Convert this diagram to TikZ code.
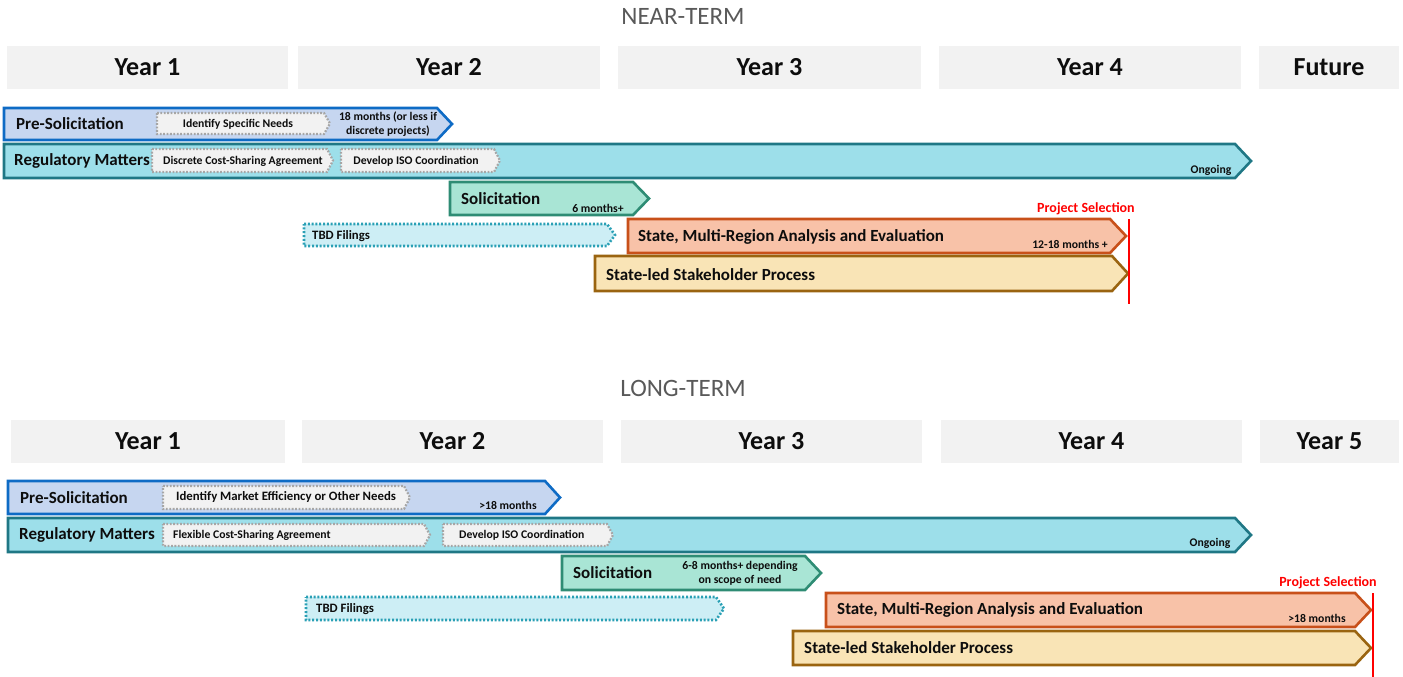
\documentclass[tikz,border=0pt]{standalone}
\usepackage{fontspec}
\setmainfont{Carlito}
\definecolor{hdrgray}{HTML}{F2F2F2}
\definecolor{txt}{HTML}{0D0D0D}
\definecolor{ttl}{HTML}{595959}
\definecolor{dotgray}{HTML}{A6A6A6}
\definecolor{preFill}{HTML}{C6D6F0}
\definecolor{preDraw}{HTML}{0E6BC5}
\definecolor{regFill}{HTML}{9DDFEA}
\definecolor{regDraw}{HTML}{1F7785}
\definecolor{solFill}{HTML}{A9E5D5}
\definecolor{solDraw}{HTML}{2E8C74}
\definecolor{tbdFill}{HTML}{CDEEF5}
\definecolor{tbdDraw}{HTML}{2AA0B5}
\definecolor{smrFill}{HTML}{F8C2A8}
\definecolor{smrDraw}{HTML}{C8501A}
\definecolor{slFill}{HTML}{F9E4B6}
\definecolor{slDraw}{HTML}{9A6410}
\definecolor{psred}{HTML}{FF0000}
\newcommand\chev[7]{%
  \draw[#1] (#3,#4) -- ({#5-#7},#4) -- (#5,{(#4+#6)/2}) -- ({#5-#7},#6) -- (#3,#6) -- cycle;
  \coordinate (#2) at (#3,{(#4+#6)/2});}
\begin{document}
\begin{tikzpicture}[x=1pt,y=-1pt, line join=miter,
  hdrbox/.style={fill=hdrgray, draw=none, inner sep=0, minimum height=43pt, text=txt,
    font=\fontsize{26}{28}\selectfont\bfseries},
  ttlstyle/.style={text=ttl, font=\fontsize{25}{27}\selectfont, inner sep=0},
  lbl/.style={anchor=west, font=\fontsize{17}{19}\selectfont\bfseries, text=txt, inner sep=0},
  small/.style={font=\fontsize{11.7}{14}\selectfont\bfseries, text=txt, inner sep=0, align=center},
  smallb/.style={small, font=\fontsize{12.8}{14}\selectfont\bfseries},
  inner/.style={fill=hdrgray, draw=dotgray, line width=2.2pt, dash pattern=on 1.8pt off 1.6pt},
  pre/.style={fill=preFill, draw=preDraw, line width=2.6pt},
  reg/.style={fill=regFill, draw=regDraw, line width=2.6pt},
  sol/.style={fill=solFill, draw=solDraw, line width=2.6pt},
  tbd/.style={fill=tbdFill, draw=tbdDraw, line width=2.6pt, dash pattern=on 2pt off 1.8pt},
  smr/.style={fill=smrFill, draw=smrDraw, line width=2.6pt},
  sl/.style={fill=slFill, draw=slDraw, line width=2.6pt},
  redline/.style={draw=psred, line width=2.2pt},
  ps/.style={text=psred, font=\fontsize{14}{16}\selectfont\bfseries, inner sep=0}
]
\useasboundingbox (0,0) rectangle (1403,677);

% ---------------- NEAR-TERM ----------------
\node[ttlstyle] (nttl) at (683,16) {NEAR-TERM};
\node[hdrbox, minimum width=281pt] (ny1) at (147.5,67.5) {Year 1};
\node[hdrbox, minimum width=302pt] (ny2) at (449,67.5) {Year 2};
\node[hdrbox, minimum width=303pt] (ny3) at (769.5,67.5) {Year 3};
\node[hdrbox, minimum width=302pt] (ny4) at (1090,67.5) {Year 4};
\node[hdrbox, minimum width=140pt] (ny5) at (1329,67.5) {Future};

\chev{pre}{npre}{4}{108}{452}{140}{15}
\chev{inner}{ni1}{157}{113}{330}{134}{6}
\node[lbl] (tnpre) at (16,124) {Pre-Solicitation};
\node[small] (tni1) at (238,124.5) {Identify Specific Needs};
\node[small] (tnpren) at (388,124.5) {18 months (or less if\\discrete projects)};

\chev{reg}{nreg}{4}{144}{1251}{178}{16}
\chev{inner}{ni2}{152}{149}{333}{172}{6}
\chev{inner}{ni3}{341}{149}{500}{172}{6}
\node[lbl] (tnreg) at (14,161) {Regulatory Matters};
\node[small] (tni2) at (243,161) {Discrete Cost-Sharing Agreement};
\node[small] (tni3) at (416,161) {Develop ISO Coordination};
\node[small] (tnregn) at (1211,170) {Ongoing};

\chev{sol}{nsol}{450}{182}{649}{215}{16}
\node[lbl] (tnsol) at (461,199) {Solicitation};
\node[small] (tnsoln) at (598,208) {6 months+};

\chev{tbd}{ntbd}{304}{224}{615}{246}{8}
\node[smallb, anchor=west] (tntbd) at (312,236) {TBD Filings};

\chev{smr}{nsmr}{628}{219}{1126}{253}{16}
\node[lbl] (tnsmr) at (638,237) {State, Multi-Region Analysis and Evaluation};
\node[small] (tnsmrn) at (1070,244) {12-18 months +};

\chev{sl}{nsl}{595}{256}{1128}{291}{16}
\node[lbl] (tnsl) at (606,275) {State-led Stakeholder Process};

\coordinate (nps1) at (1129,219);
\coordinate (nps2) at (1129,304);
\draw[redline] (nps1) -- (nps2);
\node[ps] (tnps) at (1086,209) {Project Selection};

% ---------------- LONG-TERM ----------------
\node[ttlstyle] (lttl) at (683,388) {LONG-TERM};
\node[hdrbox, minimum width=274pt] (ly1) at (148,441.5) {Year 1};
\node[hdrbox, minimum width=301pt] (ly2) at (452.5,441.5) {Year 2};
\node[hdrbox, minimum width=301pt] (ly3) at (771.5,441.5) {Year 3};
\node[hdrbox, minimum width=301pt] (ly4) at (1091.5,441.5) {Year 4};
\node[hdrbox, minimum width=139pt] (ly5) at (1329.5,441.5) {Year 5};

\chev{pre}{lpre}{8}{481}{560}{514}{15}
\chev{inner}{li1}{163}{486}{410}{509}{6}
\node[lbl] (tlpre) at (20,498) {Pre-Solicitation};
\node[smallb, anchor=west] (tli1) at (176,497) {Identify Market Efficiency or Other Needs};
\node[small] (tlpren) at (508,505) {>18 months};

\chev{reg}{lreg}{8}{518}{1251}{552}{16}
\chev{inner}{li2}{163}{524}{430}{546}{6}
\chev{inner}{li3}{443}{524}{613}{546}{6}
\node[lbl] (tlreg) at (19,535) {Regulatory Matters};
\node[small, anchor=west] (tli2) at (173,535.5) {Flexible Cost-Sharing Agreement};
\node[small, anchor=west] (tli3) at (459,535.5) {Develop ISO Coordination};
\node[small] (tlregn) at (1210,543) {Ongoing};

\chev{sol}{lsol}{562}{556}{821}{590}{16}
\node[lbl] (tlsol) at (573,573) {Solicitation};
\node[small] (tlsoln) at (740,573) {6-8 months+ depending\\on scope of need};

\chev{tbd}{ltbd}{306}{597}{724}{620}{8}
\node[smallb, anchor=west] (tltbd) at (316,609) {TBD Filings};

\chev{smr}{lsmr}{826}{593}{1371}{627}{16}
\node[lbl] (tlsmr) at (837,610) {State, Multi-Region Analysis and Evaluation};
\node[small] (tlsmrn) at (1317,618) {>18 months};

\chev{sl}{lsl}{793}{631}{1371}{665}{16}
\node[lbl] (tlsl) at (804,648) {State-led Stakeholder Process};

\coordinate (lps1) at (1373,593);
\coordinate (lps2) at (1373,677);
\draw[redline] (lps1) -- (lps2);
\node[ps] (tlps) at (1328,583) {Project Selection};
\end{tikzpicture}
\end{document}
